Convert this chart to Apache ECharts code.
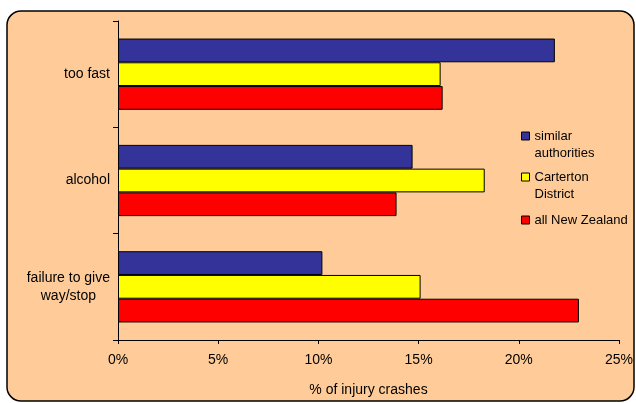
<!DOCTYPE html>
<html>
<head>
<meta charset="utf-8">
<script src="https://cdn.jsdelivr.net/npm/echarts@6/dist/echarts.min.js"></script>
<style>
  html, body { margin: 0; padding: 0; background: #fff; }
  #chart { width: 636px; height: 403px; }
</style>
</head>
<body>
<div id="chart"></div>
<script>
  var categories = ['too fast', 'alcohol', 'failure to give way/stop'];
  var seriesNames = ['similar\nauthorities', 'Carterton\nDistrict', 'all New Zealand'];
  var similarValues = [21.8, 14.7, 10.2];
  var cartertonValues = [16.1, 18.3, 15.1];
  var nzValues = [16.2, 13.9, 23.0];
  var xTicks = [0, 5, 10, 15, 20, 25];
  var colors = ['#333399', '#FFFF00', '#FF0000'];

  var font = '"Liberation Sans", Arial, sans-serif';

  // wrap long category names, lines centred like the original
  function wrapLabel(v) {
    var words = v.split(' '), lines = [], cur = '';
    words.forEach(function (w) {
      if (cur && (cur + ' ' + w).length > 15) { lines.push(cur); cur = w; }
      else cur = cur ? cur + ' ' + w : w;
    });
    lines.push(cur);
    return lines.map(function (l) { return '{c|' + l + '}'; }).join('\n');
  }

  // legend marker sits on the first line of a two-line name
  function legendFor(i, top) {
    return {
      data: [seriesNames[i]],
      formatter: function (name) {
        return name.indexOf('\n') >= 0 ? ' \n' + name : name;
      },
      left: 521,
      top: top,
      padding: 0,
      orient: 'vertical',
      icon: 'rect',
      itemWidth: 8,
      itemHeight: 8,
      selectedMode: false,
      itemStyle: { borderColor: '#000', borderWidth: 1 },
      textStyle: { fontFamily: font, fontSize: 13, color: '#000', lineHeight: 17 }
    };
  }

  var chart = echarts.init(document.getElementById('chart'));
  var option = {
    backgroundColor: '#fff',
    animation: false,
    graphic: [{
      type: 'rect',
      z: -10,
      shape: { x: 7, y: 11, width: 627, height: 390, r: 14 },
      style: { fill: '#FFCC99', stroke: '#000', lineWidth: 1.5 }
    }],
    legend: [legendFor(0, 110.5), legendFor(1, 151.5), legendFor(2, 211.5)],
    grid: { left: 118, right: 15, top: 21, bottom: 63 },
    xAxis: {
      type: 'value',
      min: xTicks[0],
      max: xTicks[xTicks.length - 1],
      interval: 5,
      name: '% of injury crashes',
      nameLocation: 'middle',
      nameGap: 43,
      nameTextStyle: { fontFamily: font, fontSize: 14, color: '#000' },
      axisLine: { show: true, lineStyle: { color: '#000', width: 1 } },
      axisTick: { show: true, length: 4, lineStyle: { color: '#000' } },
      splitLine: { show: false },
      axisLabel: {
        formatter: '{value}%',
        margin: 13,
        fontFamily: font,
        fontSize: 14,
        color: '#000'
      }
    },
    yAxis: {
      type: 'category',
      inverse: true,
      data: categories,
      axisLine: { show: true, lineStyle: { color: '#000', width: 1 } },
      axisTick: { show: true, length: 5, lineStyle: { color: '#000' } },
      axisLabel: {
        margin: 8,
        formatter: wrapLabel,
        rich: { c: { align: 'center', fontFamily: font, fontSize: 14, color: '#000', lineHeight: 18 } }
      }
    },
    series: [
      { name: seriesNames[0], type: 'bar', data: similarValues },
      { name: seriesNames[1], type: 'bar', data: cartertonValues },
      { name: seriesNames[2], type: 'bar', data: nzValues }
    ].map(function (s, i) {
      s.barGap = '0%';
      s.barCategoryGap = '33%';
      s.itemStyle = { color: colors[i], borderColor: '#000', borderWidth: 1 };
      return s;
    })
  };
  chart.setOption(option);
</script>
</body>
</html>
